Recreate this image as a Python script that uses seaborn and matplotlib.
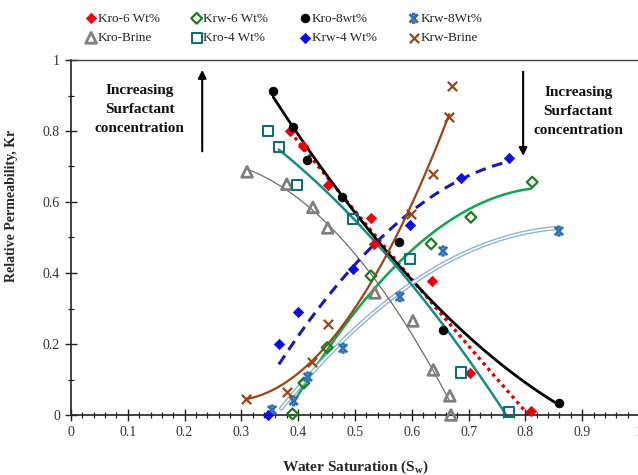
import numpy as np
import pandas as pd
import matplotlib
matplotlib.use("Agg")
import matplotlib.pyplot as plt
import matplotlib.patheffects as pe
from matplotlib.path import Path
from matplotlib.ticker import MultipleLocator, FuncFormatter
import seaborn as sns

# ---------------- data ----------------
kro6_x = [0.386, 0.408, 0.452, 0.528, 0.533, 0.635, 0.702, 0.810]
kro6_y = [0.800, 0.757, 0.648, 0.555, 0.482, 0.378, 0.118, 0.011]

krw6_x = [0.390, 0.410, 0.451, 0.528, 0.634, 0.704, 0.812]
krw6_y = [0.003, 0.090, 0.190, 0.392, 0.482, 0.557, 0.656]

kro8_x = [0.356, 0.391, 0.415, 0.477, 0.577, 0.655, 0.859]
kro8_y = [0.913, 0.812, 0.718, 0.615, 0.487, 0.240, 0.034]

krw8_x = [0.354, 0.392, 0.417, 0.479, 0.579, 0.655, 0.859]
krw8_y = [0.014, 0.040, 0.107, 0.188, 0.333, 0.462, 0.518]

krob_x = [0.310, 0.380, 0.426, 0.452, 0.535, 0.602, 0.638, 0.667, 0.669]
krob_y = [0.685, 0.650, 0.585, 0.527, 0.344, 0.265, 0.127, 0.054, 0.000]

kro4_x = [0.347, 0.366, 0.398, 0.497, 0.597, 0.687, 0.771]
kro4_y = [0.800, 0.755, 0.648, 0.552, 0.440, 0.120, 0.008]

krw4_x = [0.347, 0.366, 0.400, 0.497, 0.597, 0.687, 0.771]
krw4_y = [0.000, 0.200, 0.290, 0.411, 0.535, 0.667, 0.724]

krwb_x = [0.308, 0.380, 0.424, 0.452, 0.599, 0.638, 0.666, 0.670]
krwb_y = [0.045, 0.065, 0.150, 0.256, 0.566, 0.679, 0.839, 0.927]

x_ticks = [0, 0.1, 0.2, 0.3, 0.4, 0.5, 0.6, 0.7, 0.8, 0.9, 1]
y_ticks = [0, 0.2, 0.4, 0.6, 0.8, 1]

# ---------------- figure ----------------
sns.set_style("white")
plt.rcParams["font.family"] = ["Liberation Serif", "DejaVu Serif"]
plt.rcParams["mathtext.fontset"] = "custom"
plt.rcParams["mathtext.rm"] = "Liberation Serif"
plt.rcParams["mathtext.bf"] = "Liberation Serif:bold"

fig = plt.figure(figsize=(6.38, 4.75), dpi=100)
ax = fig.add_axes([71 / 638, 1 - 415 / 475, 568 / 638, 355 / 475])

# Excel-like "star" marker: an X with short caps (line segments only)
star = Path([(-1, -1), (1, 1), (-1, 1), (1, -1), (-0.4, 1), (0.4, 1), (-0.4, -1), (0.4, -1)],
            [Path.MOVETO, Path.LINETO, Path.MOVETO, Path.LINETO,
             Path.MOVETO, Path.LINETO, Path.MOVETO, Path.LINETO])

series = [
    # label, x, y, marker, face, edge, size, lw_marker, line color, line style, line width, double
    ("Kro-6 Wt%", kro6_x, kro6_y, "D", "#E8000B", "#E8000B", 28, 0.5, "#E00000", (0, (1, 1.2)), 2.4, False),
    ("Krw-6 Wt%", krw6_x, krw6_y, "D", "none", "#1E7B1E", 30, 1.6, "#10A550", "-", 1.8, False),
    ("Kro-8wt%", kro8_x, kro8_y, "o", "black", "black", 40, 0.5, "black", "-", 2.0, False),
    ("Krw-8Wt%", krw8_x, krw8_y, star, "none", "#2F6FB5", 36, 2.0, "#8DB3DA", "-", 3.2, True),
    ("Kro-Brine", krob_x, krob_y, "^", "none", "#7F7F7F", 60, 2.0, "#6E6E6E", "-", 0.9, False),
    ("Kro-4 Wt%", kro4_x, kro4_y, "s", "none", "#0E6E72", 55, 1.5, "#1A8A8A", "-", 1.8, False),
    ("Krw-4 Wt%", krw4_x, krw4_y, "D", "#0A0AE6", "#0A0AE6", 28, 0.5, "#1A1AB0", (0, (3.5, 2.2)), 2.2, False),
    ("Krw-Brine", krwb_x, krwb_y, "x", "#9A4514", "#9A4514", 45, 1.6, "#9A4514", "-", 1.6, False),
]

fit_ranges = {
    "Kro-6 Wt%": (0.386, 0.81),
    "Krw-6 Wt%": (0.393, 0.81),
    "Kro-8wt%": (0.356, 0.859),
    "Krw-8Wt%": (0.37, 0.859),
    "Kro-Brine": (0.31, 0.667),
    "Kro-4 Wt%": (0.366, 0.765),
    "Krw-4 Wt%": (0.366, 0.771),
    "Krw-Brine": (0.31, 0.666),
}

handles = []
for (lab, xs, ys, mk, fc, ec, sz, mlw, lc, ls, lw, dbl) in series:
    xa = np.asarray(xs)
    ya = np.asarray(ys)
    coef = np.polyfit(xa, ya, 2)
    lo, hi = fit_ranges[lab]
    xx = np.linspace(lo, hi, 120)
    yy = np.polyval(coef, xx)
    fit_df = pd.DataFrame({"x": xx, "y": yy})
    if dbl:
        sns.lineplot(data=fit_df, x="x", y="y", ax=ax, color=lc, lw=lw, sort=False,
                     path_effects=[pe.Stroke(linewidth=lw, foreground=lc),
                                   pe.Stroke(linewidth=lw - 2.0, foreground="white")], zorder=2)
    else:
        sns.lineplot(data=fit_df, x="x", y="y", ax=ax, color=lc, lw=lw, linestyle=ls, sort=False, zorder=2)
    df = pd.DataFrame({"x": xa, "y": ya})
    sns.scatterplot(data=df, x="x", y="y", ax=ax, marker=mk, s=sz, facecolor=fc,
                    edgecolor=ec, linewidth=mlw, zorder=3, clip_on=False)
    h = ax.scatter([], [], marker=mk, s=sz, facecolor=fc, edgecolor=ec, linewidth=mlw)
    handles.append((h, lab))

# legend order: 2 rows x 4 columns (column-major fill)
order = [0, 4, 1, 5, 2, 6, 3, 7]
leg = fig.legend([handles[i][0] for i in order], [handles[i][1] for i in order],
                 ncol=4, loc="upper left", bbox_to_anchor=(0.118, 0.993), frameon=False,
                 fontsize=9.5, handletextpad=0.0, columnspacing=2.3, labelspacing=0.55,
                 handlelength=1.0, borderaxespad=0.3)

# axes styling
ax.set_xlim(0, 1)
ax.set_ylim(0, 1)
ax.set_xticks(x_ticks)
ax.set_yticks(y_ticks)
fmt = FuncFormatter(lambda v, p: ("%g" % round(v, 2)))
ax.xaxis.set_major_formatter(fmt)
ax.yaxis.set_major_formatter(fmt)
ax.xaxis.set_minor_locator(MultipleLocator(0.02))
ax.yaxis.set_minor_locator(MultipleLocator(0.1))
ax.tick_params(axis="both", which="major", direction="inout", length=8, width=1,
               color="#222222", labelsize=10, labelcolor="#333333")
ax.tick_params(axis="both", which="minor", direction="inout", length=5, width=0.9, color="#222222")
ax.tick_params(axis="x", which="both", bottom=True, top=False, pad=4)
ax.tick_params(axis="y", which="both", left=True, right=False, pad=4)
for s in ["left", "bottom"]:
    ax.spines[s].set_color("#222222")
    ax.spines[s].set_linewidth(1.2)
ax.spines["top"].set_color("#444444")
ax.spines["top"].set_linewidth(1.0)
ax.spines["right"].set_visible(False)

ax.set_xlabel(r"Water Saturation (S$_\mathbf{w}$)", fontsize=11, fontweight="bold", labelpad=14)
ax.set_ylabel("Relative Permeability, Kr", fontsize=10, fontweight="bold", labelpad=16)
ax.yaxis.set_label_coords(-0.093, 0.59)

# annotations
txt = "Increasing\nSurfactant\nconcentration"
ax.text(0.121, 0.86, txt, ha="center", va="center", fontsize=11, fontweight="bold",
        linespacing=1.6, color="#111111")
ax.text(0.893, 0.856, txt, ha="center", va="center", fontsize=11, fontweight="bold",
        linespacing=1.6, color="#111111")
ax.annotate("", xy=(0.231, 0.98), xytext=(0.231, 0.735),
            arrowprops=dict(arrowstyle="-|>", color="black", lw=1.5, mutation_scale=12))
ax.annotate("", xy=(0.796, 0.722), xytext=(0.796, 0.975),
            arrowprops=dict(arrowstyle="-|>", color="black", lw=1.5, mutation_scale=12))

fig.savefig("out.png", dpi=100)
